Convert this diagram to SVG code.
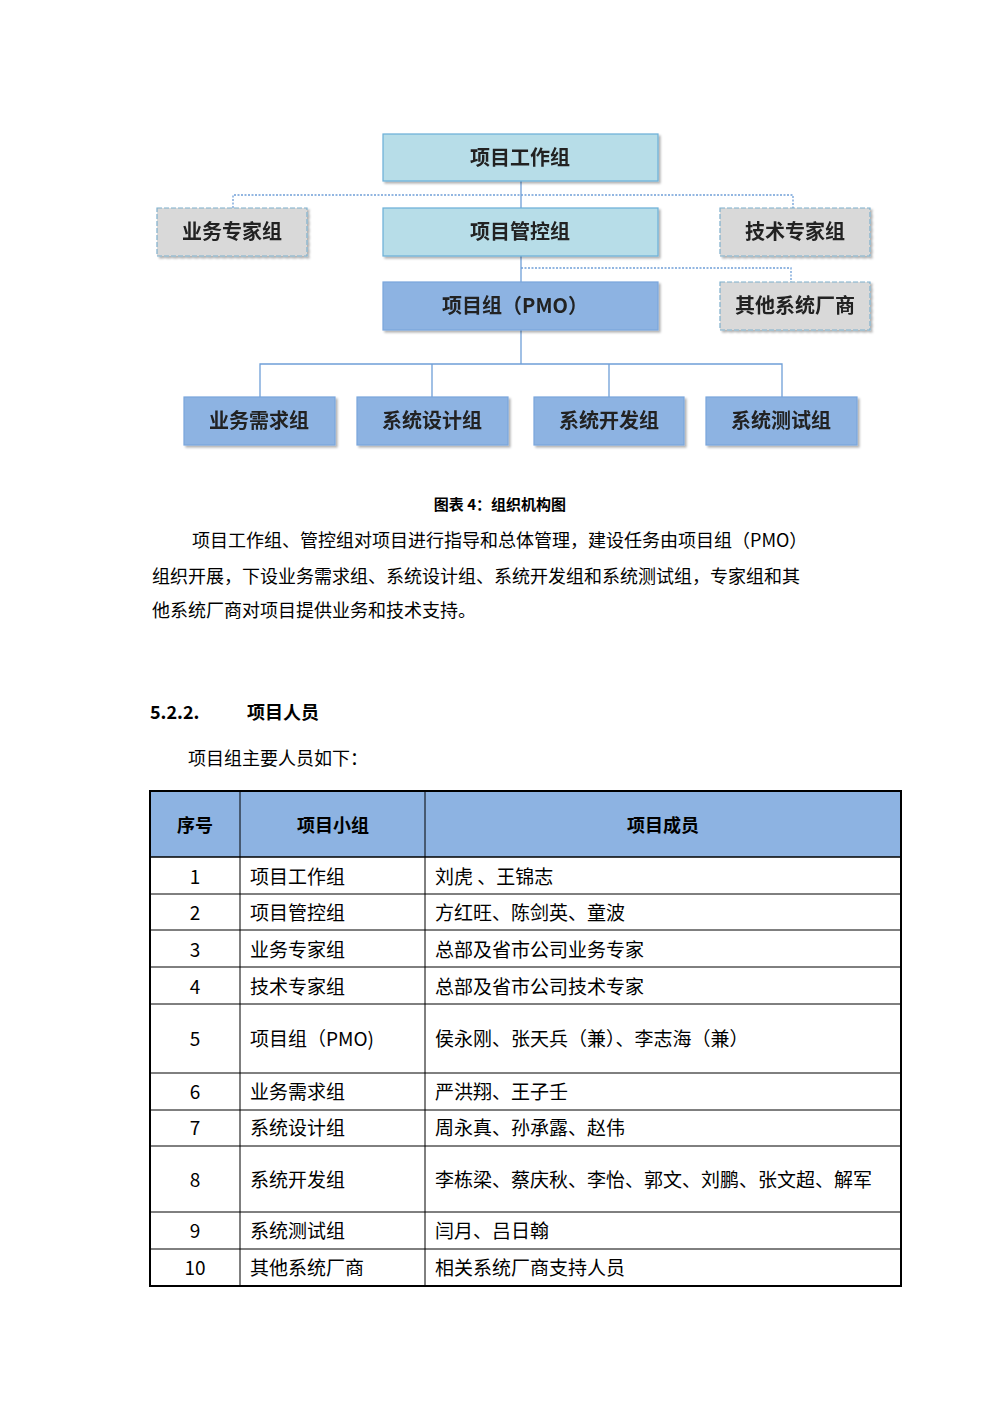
<svg xmlns="http://www.w3.org/2000/svg" width="1000" height="1415" viewBox="0 0 1000 1415">
<style>
text{font-family:"Noto Sans CJK SC",sans-serif;fill:#000}
.nt{font-size:20px;font-weight:bold;text-anchor:middle;fill:#222}
.lt{fill:#b7dde8;stroke:#6ab0d8;stroke-width:1.2}
.dk{fill:#8db3e2;stroke:#7aa6dc;stroke-width:1.2}
.gr{fill:#d9d9d9;stroke:#7fb0cc;stroke-width:1.2;stroke-dasharray:5 2}
.c{stroke:#6f9fd8;stroke-width:1.3;fill:none}
.d{stroke:#6f9fd8;stroke-width:1.3;fill:none;stroke-dasharray:2 1.5}
.p{font-size:18px}
.tb{font-size:19px}
.th{font-size:18px;font-weight:bold;text-anchor:middle}
.tl{stroke:#000;stroke-width:1}
</style>
<defs><filter id="sh"><feDropShadow dx="2" dy="2" stdDeviation="1.2" flood-color="#000" flood-opacity="0.3"/></filter></defs>
<g id="connectors">
<path class="c" d="M521 181V364M260 397V364H782V397M432 364V397M609 364V397"/>
<path class="d" d="M233 208V195H793V208M521 268H791V282"/>
</g>
<g id="n1" filter="url(#sh)"><rect class="lt" x="383" y="134" width="275" height="47"/><text class="nt" x="520" y="165">项目工作组</text></g>
<g id="n2" filter="url(#sh)"><rect class="gr" x="157" y="208" width="150" height="48"/><text class="nt" x="232" y="239">业务专家组</text></g>
<g id="n3" filter="url(#sh)"><rect class="lt" x="383" y="208" width="275" height="48"/><text class="nt" x="520" y="239">项目管控组</text></g>
<g id="n4" filter="url(#sh)"><rect class="gr" x="720" y="208" width="150" height="48"/><text class="nt" x="795" y="239">技术专家组</text></g>
<g id="n5" filter="url(#sh)"><rect class="dk" x="383" y="282" width="275" height="48"/><text class="nt" x="515" y="313">项目组（PMO）</text></g>
<g id="n6" filter="url(#sh)"><rect class="gr" x="720" y="282" width="150" height="48"/><text class="nt" x="795" y="313">其他系统厂商</text></g>
<g id="n7" filter="url(#sh)"><rect class="dk" x="184" y="397" width="151" height="48"/><text class="nt" x="259" y="428">业务需求组</text></g>
<g id="n8" filter="url(#sh)"><rect class="dk" x="357" y="397" width="151" height="48"/><text class="nt" x="432" y="428">系统设计组</text></g>
<g id="n9" filter="url(#sh)"><rect class="dk" x="534" y="397" width="150" height="48"/><text class="nt" x="609" y="428">系统开发组</text></g>
<g id="n10" filter="url(#sh)"><rect class="dk" x="706" y="397" width="151" height="48"/><text class="nt" x="781" y="428">系统测试组</text></g>
<text x="500" y="510" style="font-size:15px;font-weight:bold;text-anchor:middle">图表 4：组织机构图</text>
<text class="p" x="192" y="547">项目工作组、管控组对项目进行指导和总体管理，建设任务由项目组（PMO）</text>
<text class="p" x="152" y="583">组织开展，下设业务需求组、系统设计组、系统开发组和系统测试组，专家组和其</text>
<text class="p" x="152" y="617">他系统厂商对项目提供业务和技术支持。</text>
<text x="150" y="719" style="font-size:18px;font-weight:bold">5.2.2.</text>
<text x="247" y="719" style="font-size:18px;font-weight:bold">项目人员</text>
<text class="p" x="188" y="765">项目组主要人员如下：</text>
<g id="table">
<rect x="150" y="791" width="751" height="66" fill="#8db3e2"/>
<rect x="150" y="791" width="751" height="495" fill="none" stroke="#000" stroke-width="2"/>
<path class="tl" d="M240 791V1286M425 791V1286M150 894H901M150 930H901M150 967H901M150 1004H901M150 1073H901M150 1110H901M150 1146H901M150 1212H901M150 1249H901"/>
<path class="tl" d="M150 857H901" stroke="#fff" stroke-width="0"/>
<path d="M150 857H901" stroke="#000" stroke-width="1"/>
<text class="th" x="195" y="832">序号</text><text class="th" x="333" y="832">项目小组</text><text class="th" x="663" y="832">项目成员</text>
<g class="tb" style="font-size:19px">
<text x="195" y="884" text-anchor="middle">1</text><text x="250" y="884">项目工作组</text><text x="435" y="884">刘虎 、王锦志</text>
<text x="195" y="920" text-anchor="middle">2</text><text x="250" y="920">项目管控组</text><text x="435" y="920">方红旺、陈剑英、童波</text>
<text x="195" y="957" text-anchor="middle">3</text><text x="250" y="957">业务专家组</text><text x="435" y="957">总部及省市公司业务专家</text>
<text x="195" y="994" text-anchor="middle">4</text><text x="250" y="994">技术专家组</text><text x="435" y="994">总部及省市公司技术专家</text>
<text x="195" y="1046" text-anchor="middle">5</text><text x="250" y="1046">项目组（PMO)</text><text x="435" y="1046">侯永刚、张天兵（兼）、李志海（兼）</text>
<text x="195" y="1099" text-anchor="middle">6</text><text x="250" y="1099">业务需求组</text><text x="435" y="1099">严洪翔、王子壬</text>
<text x="195" y="1135" text-anchor="middle">7</text><text x="250" y="1135">系统设计组</text><text x="435" y="1135">周永真、孙承露、赵伟</text>
<text x="195" y="1187" text-anchor="middle">8</text><text x="250" y="1187">系统开发组</text><text x="435" y="1187">李栋梁、蔡庆秋、李怡、郭文、刘鹏、张文超、解军</text>
<text x="195" y="1238" text-anchor="middle">9</text><text x="250" y="1238">系统测试组</text><text x="435" y="1238">闫月、吕日翰</text>
<text x="195" y="1275" text-anchor="middle">10</text><text x="250" y="1275">其他系统厂商</text><text x="435" y="1275">相关系统厂商支持人员</text>
</g>
</g>
</svg>
